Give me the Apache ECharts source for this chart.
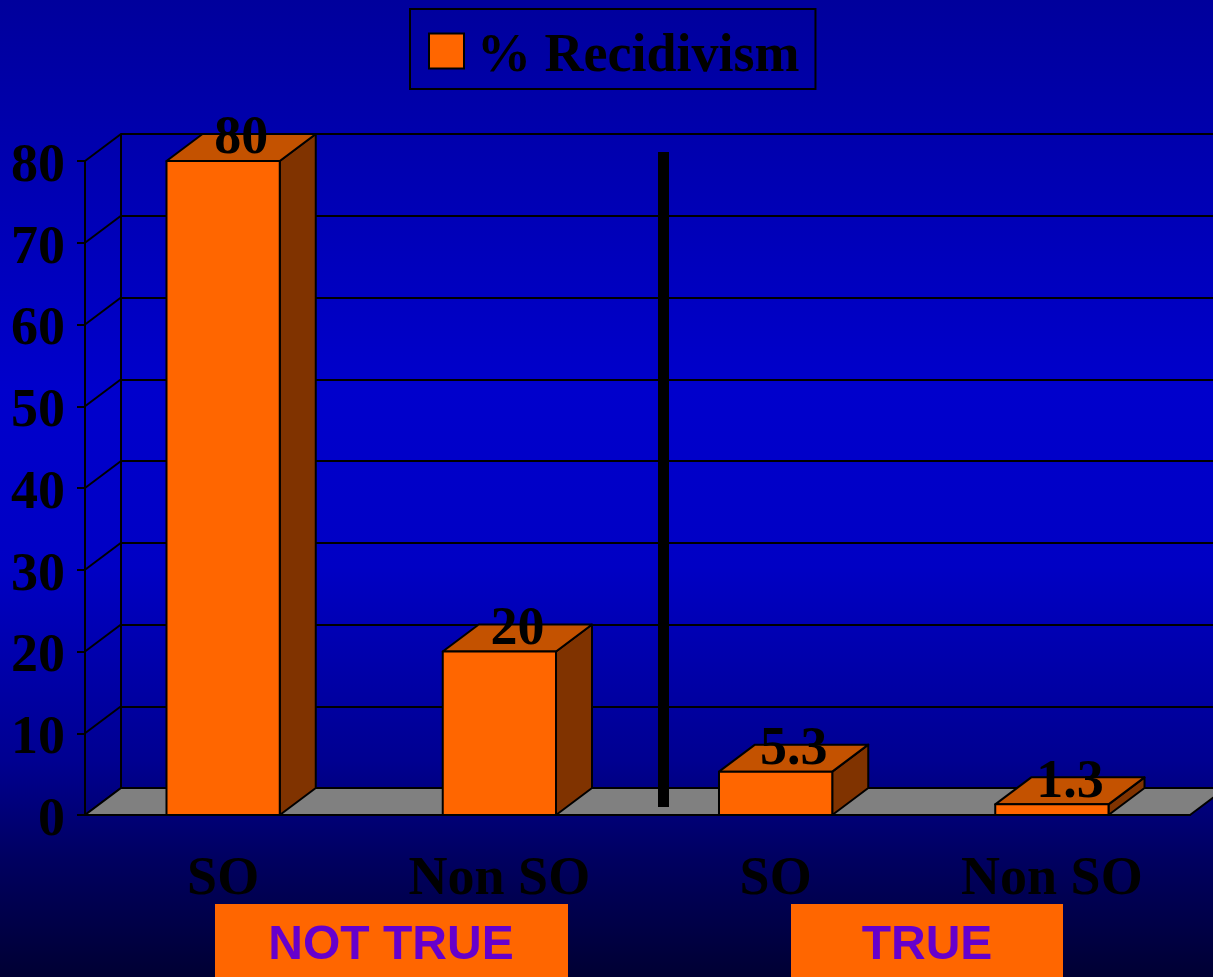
<!DOCTYPE html>
<html lang="en">
<head>
  <meta charset="UTF-8" />
  <title>% Recidivism</title>
  <script src="https://cdn.jsdelivr.net/npm/echarts@6/dist/echarts.min.js"></script>
  <style>
    html, body { margin: 0; padding: 0; }
    #chart { width: 1213px; height: 977px; }
  </style>
</head>
<body>
  <div id="chart"></div>
<script type="text/javascript">
  // data
  var categories = ['SO', 'Non SO', 'SO', 'Non SO'];
  var recidivism = [80, 20, 5.3, 1.3];
  var yTicks = [0, 10, 20, 30, 40, 50, 60, 70, 80];
  var groupLabels = ['NOT TRUE', 'TRUE'];

  // fake 3D depth offset
  var DX = 36, DY = -27;
  var SERIF = '"Liberation Serif", "Times New Roman", serif';
  var SANS = '"Liberation Sans", Arial, sans-serif';
  var edge = { stroke: '#000', lineWidth: 2, lineJoin: 'round' };
  var bigSerif = { color: '#000', fontSize: 54, fontWeight: 'bold', fontFamily: SERIF };

  function withEdge(fill) {
    return Object.assign({ fill: fill }, edge);
  }

  // 3D bar: side, top, front face and value label
  function renderBar(params, api) {
    var i = api.value(0), v = api.value(1);
    var top = api.coord([i, v]);
    var base = api.coord([i, 0]);
    var w = api.size([1, 0])[0] * 0.41;
    var x0 = top[0] - w / 2, x1 = top[0] + w / 2;
    var yt = top[1], yb = base[1];
    return {
      type: 'group',
      children: [
        { type: 'polygon', shape: { points: [[x1, yt], [x1 + DX, yt + DY], [x1 + DX, yb + DY], [x1, yb]] }, style: withEdge('#803300') },
        { type: 'polygon', shape: { points: [[x0, yt], [x1, yt], [x1 + DX, yt + DY], [x0 + DX, yt + DY]] }, style: withEdge('#C45200') },
        { type: 'rect', shape: { x: x0, y: yt, width: w, height: yb - yt }, style: withEdge('#FF6600') },
        {
          type: 'text', x: top[0] + DX / 2, y: yt + DY / 2 - 8,
          style: { text: String(v), font: 'bold 54px ' + SERIF, fill: '#000', align: 'center', verticalAlign: 'middle' }
        }
      ]
    };
  }

  // side wall lines from front axis ticks to back wall
  function renderSideLine(params, api) {
    var cs = params.coordSys;
    var p = api.coord([0, api.value(1)]);
    return {
      type: 'line',
      shape: { x1: cs.x, y1: p[1], x2: cs.x + DX, y2: p[1] + DY },
      style: { stroke: '#000', lineWidth: 2 }
    };
  }

  // gray floor
  function renderFloor(params, api) {
    var cs = params.coordSys;
    var y0 = api.coord([0, 0])[1];
    var xl = cs.x, xr = cs.x + cs.width;
    return {
      type: 'polygon',
      shape: { points: [[xl, y0], [xr, y0], [xr + DX, y0 + DY], [xl + DX, y0 + DY]] },
      style: withEdge('#808080')
    };
  }

  var myChart = echarts.init(document.getElementById('chart'));

  var option = {
    animation: false,
    backgroundColor: {
      type: 'linear', x: 0, y: 0, x2: 0, y2: 1,
      colorStops: [
        { offset: 0, color: '#00009C' },
        { offset: 0.4, color: '#0000CC' },
        { offset: 0.58, color: '#0000C4' },
        { offset: 0.78, color: '#000090' },
        { offset: 0.88, color: '#000060' },
        { offset: 1, color: '#000033' }
      ]
    },
    legend: {
      data: ['% Recidivism'],
      left: 410,
      top: 9,
      padding: [21, 16, 5, 18],
      borderColor: '#000',
      borderWidth: 2,
      icon: 'rect',
      itemWidth: 35,
      itemHeight: 35,
      itemStyle: { borderColor: '#000', borderWidth: 2 },
      selectedMode: false,
      formatter: '{t|{name}}',
      textStyle: Object.assign({
        rich: { t: Object.assign({ padding: [12, 0, 0, 8] }, bigSerif) }
      }, bigSerif)
    },
    grid: [
      { left: 85, right: 23, top: 161, bottom: 162 },
      { left: 85 + DX, right: 23 - DX, top: 161 + DY, bottom: 162 - DY }
    ],
    xAxis: [
      {
        type: 'category', gridIndex: 0, data: categories,
        axisLine: { lineStyle: { color: '#000', width: 2 } },
        axisTick: { length: 12, lineStyle: { color: '#000', width: 2 } },
        axisLabel: Object.assign({ interval: 0, margin: 38 }, bigSerif),
        splitLine: { show: false }
      },
      { type: 'value', gridIndex: 1, min: 0, max: 1, show: false }
    ],
    yAxis: [
      {
        type: 'value', gridIndex: 0, min: 0, max: 80, interval: 10,
        axisLine: { show: true, lineStyle: { color: '#000', width: 2 } },
        axisTick: { show: true, length: 8, lineStyle: { color: '#000', width: 2 } },
        axisLabel: Object.assign({
          margin: 20,
          formatter: '{v|{value}}',
          rich: { v: Object.assign({ padding: [12, 0, 0, 0] }, bigSerif) }
        }, bigSerif),
        splitLine: { show: false }
      },
      {
        type: 'value', gridIndex: 1, min: 0, max: 80, interval: 10,
        axisLine: { show: true, lineStyle: { color: '#000', width: 2 } },
        axisTick: { show: false },
        axisLabel: { show: false },
        splitLine: { show: true, lineStyle: { color: '#000', width: 2 } }
      }
    ],
    series: [
      {
        type: 'custom', name: 'side', xAxisIndex: 0, yAxisIndex: 0, z: 1, silent: true,
        data: yTicks.map(function (t) { return [0, t]; }),
        renderItem: renderSideLine
      },
      {
        type: 'custom', name: 'floor', xAxisIndex: 0, yAxisIndex: 0, z: 1, silent: true,
        data: [[0, 0]],
        renderItem: renderFloor
      },
      {
        type: 'custom', name: '% Recidivism', xAxisIndex: 0, yAxisIndex: 0, z: 3,
        itemStyle: { color: '#FF6600' },
        data: recidivism.map(function (v, i) { return [i, v]; }),
        renderItem: renderBar
      }
    ],
    graphic: [
      // divider between the two groups
      { type: 'rect', z: 100, shape: { x: 658, y: 152, width: 11, height: 655 }, style: { fill: '#000' } },
      { type: 'rect', z: 100, shape: { x: 215, y: 904, width: 353, height: 80 }, style: { fill: '#FF6600' } },
      {
        type: 'text', z: 101, x: 391, y: 946,
        style: { text: groupLabels[0], font: 'bold 48px ' + SANS, fill: '#6600CC', align: 'center', verticalAlign: 'middle' }
      },
      { type: 'rect', z: 100, shape: { x: 791, y: 904, width: 272, height: 80 }, style: { fill: '#FF6600' } },
      {
        type: 'text', z: 101, x: 927, y: 946,
        style: { text: groupLabels[1], font: 'bold 48px ' + SANS, fill: '#6600CC', align: 'center', verticalAlign: 'middle' }
      }
    ]
  };

  myChart.setOption(option);
</script>
</body>
</html>
